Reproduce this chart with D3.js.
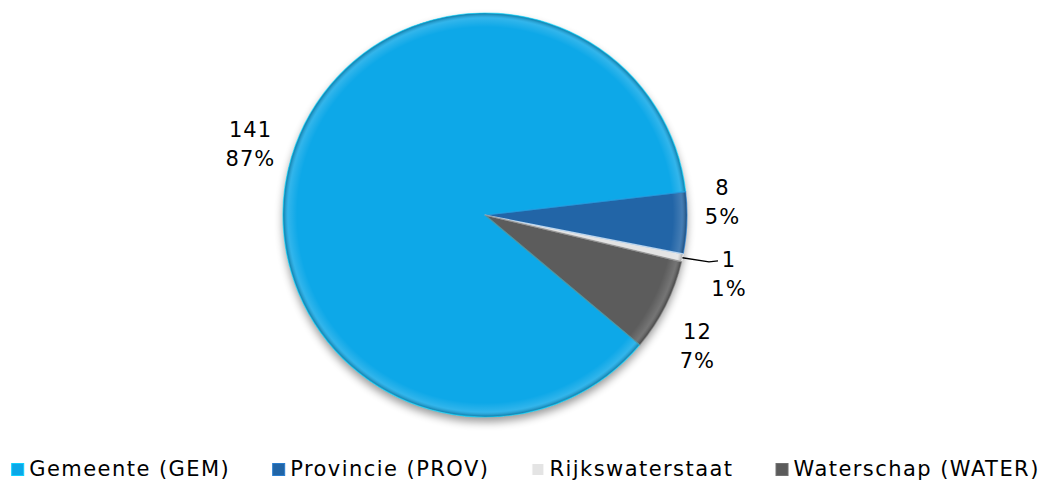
<!DOCTYPE html>
<meta charset="utf-8">
<style>
    body { margin: 0; background: #fff; }
    text { font-family: "DejaVu Sans", Verdana, sans-serif; fill: #000; }
</style>
<body>
<script src="https://cdn.jsdelivr.net/npm/d3@7"></script>
<script>

    var categories = ["Gemeente (GEM)", "Provincie (PROV)", "Rijkswaterstaat", "Waterschap (WATER)"];
    var counts = [141, 8, 1, 12];
    var colors = ["#0ba8e8", "#2165a7", "#e4e4e4", "#5b5b5b"];

    var width = 1049, height = 484;
    var cx = 485, cy = 215, radius = 202;

    var svg = d3.select("body").append("svg")
        .attr("width", width)
        .attr("height", height);

    var defs = svg.append("defs");

    var shadow = defs.append("filter").attr("id", "shadow")
        .attr("x", "-20%").attr("y", "-20%").attr("width", "140%").attr("height", "140%");
    shadow.append("feGaussianBlur").attr("in", "SourceAlpha").attr("stdDeviation", 4);
    shadow.append("feOffset").attr("dy", 5).attr("result", "blur");
    shadow.append("feComponentTransfer").append("feFuncA").attr("type", "linear").attr("slope", 0.4);
    var merge = shadow.append("feMerge");
    merge.append("feMergeNode");
    merge.append("feMergeNode").attr("in", "SourceGraphic");

    // rim bevel: light band inside, dark outer edge
    var rim = defs.append("radialGradient").attr("id", "rim")
        .attr("gradientUnits", "userSpaceOnUse")
        .attr("cx", 0).attr("cy", 0).attr("r", radius);
    rim.append("stop").attr("offset", "0.93").attr("stop-color", "#fff").attr("stop-opacity", 0);
    rim.append("stop").attr("offset", "0.975").attr("stop-color", "#fff").attr("stop-opacity", 0.15);
    rim.append("stop").attr("offset", "1").attr("stop-color", "#000").attr("stop-opacity", 0.3);

    var data = categories.map(function (c, i) { return { name: c, value: counts[i], color: colors[i] }; });
    var total = d3.sum(counts);

    var startDeg = 130;
    var pie = d3.pie()
        .sort(null)
        .value(function (d) { return d.value; })
        .startAngle(startDeg * Math.PI / 180)
        .endAngle((startDeg + 360) * Math.PI / 180);

    var arcs = pie(data);
    var arc = d3.arc().innerRadius(0).outerRadius(radius);

    var g = svg.append("g").attr("transform", "translate(" + cx + "," + cy + ")");

    var slices = g.append("g").attr("filter", "url(#shadow)");
    slices.selectAll("path.base")
        .data(arcs)
        .enter().append("path")
        .attr("class", "base")
        .attr("d", arc)
        .attr("fill", function (d) { return d.data.color; });

    g.selectAll("path.rim")
        .data(arcs)
        .enter().append("path")
        .attr("d", arc)
        .attr("fill", "url(#rim)");

    g.selectAll("path.edge")
        .data(arcs)
        .enter().append("path")
        .attr("d", arc)
        .attr("fill", "none")
        .attr("stroke", function (d) { return d3.color(d.data.color).brighter(0.7); })
        .attr("stroke-opacity", 0.6)
        .attr("stroke-width", 1.2)
        .attr("stroke-linejoin", "round");

    // labels: outside end, box pushed outward by its half size, then right side spread apart
    var anchorR = 220, halfH = 29, minGap = 72, tinyOut = 12;
    var fmt = d3.format(".0%");
    var labels = arcs.map(function (d) {
        var a = (d.startAngle + d.endAngle) / 2;
        var tiny = d.data.value / total < 0.02;
        var t = g.append("text")
            .attr("text-anchor", "middle")
            .style("font-size", "21px")
            .style("letter-spacing", "1px");
        var t1 = t.append("tspan").attr("x", 0).attr("y", 0).text(d.data.value);
        var t2 = t.append("tspan").attr("x", 0).attr("y", 29).text(fmt(d.data.value / total));
        var halfW = t.node().getBBox().width / 2;
        var s = Math.sin(a), c = -Math.cos(a);
        var r = anchorR + (tiny ? tinyOut : 0);
        return { d: d, a: a, tiny: tiny, t1: t1, t2: t2, x: s * (r + halfW), y: c * (r + halfH) };
    });
    var right = labels.filter(function (l) { return l.x > 0; }).sort(function (a, b) { return a.y - b.y; });
    for (var it = 0; it < 100; it++) {
        for (var k = 0; k < right.length - 1; k++) {
            var gap = right[k + 1].y - right[k].y;
            if (gap < minGap) {
                var push = (minGap - gap) / 2;
                right[k].y -= push;
                right[k + 1].y += push;
            }
        }
    }

    labels.forEach(function (l) {
        l.t1.attr("x", l.x).attr("y", l.y - 7);
        l.t2.attr("x", l.x).attr("y", l.y + 22);
        if (l.tiny) {
            var px = Math.sin(l.a) * radius, py = -Math.cos(l.a) * radius;
            g.append("polyline")
                .attr("points", [[px, py], [l.x - 20, l.y - 12], [l.x - 11, l.y - 13]].map(function (p) { return p.join(","); }).join(" "))
                .attr("fill", "none")
                .attr("stroke", "#000")
                .attr("stroke-width", 1.3);
        }
    });

    // legend
    var legend = svg.append("g");
    var items = legend.selectAll("g.item")
        .data(data)
        .enter().append("g")
        .attr("class", "item");
    items.append("text")
        .attr("x", 18)
        .attr("y", 476)
        .style("font-size", "21px")
        .style("letter-spacing", "1.45px")
        .text(function (d) { return d.name; });
    items.append("rect")
        .attr("x", 0.5).attr("y", 463.5)
        .attr("width", 12).attr("height", 12)
        .attr("fill", function (d) { return d.color; })
        .attr("stroke", function (d) { return d3.color(d.color).brighter(0.6); })
        .attr("stroke-width", 1);

    var widths = [];
    items.select("text").each(function () { widths.push(18 + this.getComputedTextLength()); });
    var itemGap = 42;
    var totalW = d3.sum(widths) + itemGap * (widths.length - 1);
    var xpos = (width - totalW) / 2 + 1;
    items.attr("transform", function (d, i) {
        var x = xpos;
        xpos += widths[i] + itemGap;
        return "translate(" + x + ",0)";
    });

</script>
</body>
